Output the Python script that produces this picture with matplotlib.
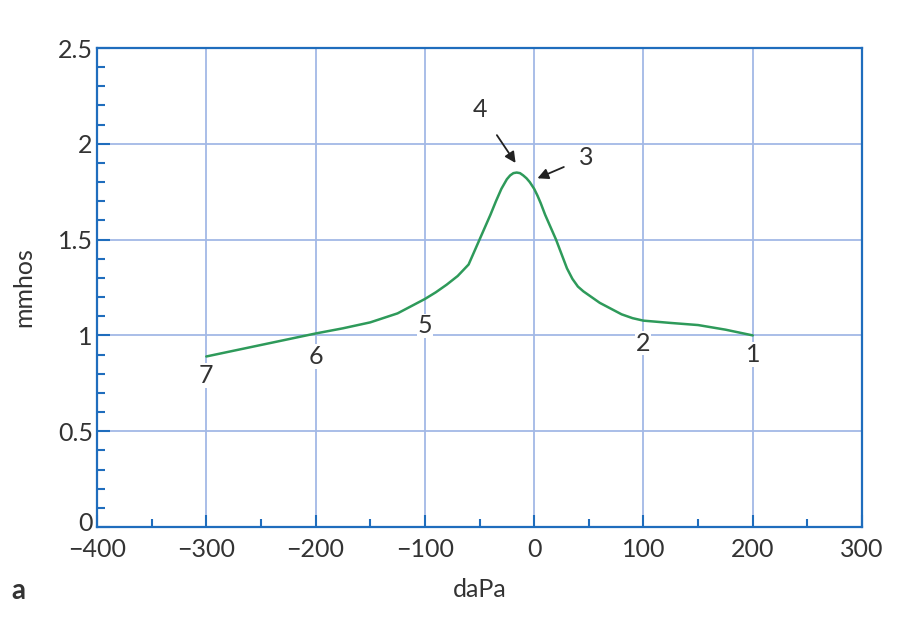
import matplotlib.pyplot as plt
import matplotlib.transforms as mtransforms
from matplotlib.ticker import MultipleLocator

# Tympanogramm-Kurve
pressure = [-300, -250, -200, -175, -150, -125, -100, -90, -80, -70, -60, -50, -45, -40, -35,
            -30, -25, -22, -19, -16, -13, -10, -7, -4, 0, 3, 6, 10, 15, 20, 25, 30, 35, 40,
            45, 50, 60, 70, 80, 90, 100, 125, 150, 175, 200]
admittance = [0.89, 0.95, 1.01, 1.037, 1.068, 1.115, 1.19, 1.225, 1.265, 1.31, 1.37, 1.50, 1.565,
              1.63, 1.70, 1.765, 1.815, 1.835, 1.847, 1.85, 1.847, 1.835, 1.82, 1.80, 1.765,
              1.73, 1.69, 1.63, 1.565, 1.50, 1.425, 1.35, 1.295, 1.255, 1.23, 1.21, 1.17, 1.14,
              1.11, 1.09, 1.077, 1.065, 1.054, 1.03, 1.0]

# Nummerierte Punkte
point_labels = ["7", "6", "5", "2", "1"]
point_x = [-300, -200, -100, 100, 200]
point_y = [0.79, 0.89, 1.05, 0.96, 0.90]

# Pfeile (Text, Textposition, Spitze)
arrow_labels = ["4", "3"]
arrow_text = [(-50, 2.18), (48, 1.93)]
arrow_tip = [(-17, 1.90), (3, 1.82)]

text_color = "#333333"
axis_color = "#1f6dbd"
grid_color = "#a3b9e6"

plt.rcParams["font.family"] = ["Lato", "DejaVu Sans"]

fig = plt.figure(figsize=(9.16, 6.36), dpi=100)
ax = fig.add_axes([0.1059, 0.1714, 0.8352, 0.7531])

ax.plot(pressure, admittance, color="#2e9a5a", lw=1.8, zorder=3,
        solid_joinstyle="round", solid_capstyle="round")

for lab, x, y in zip(point_labels, point_x, point_y):
    ax.text(x, y, lab, fontsize=18, color=text_color, ha="center", va="center",
            zorder=4, bbox=dict(facecolor="white", edgecolor="none", pad=0.5))

for lab, (tx, ty), (hx, hy) in zip(arrow_labels, arrow_text, arrow_tip):
    ax.annotate(lab, xy=(hx, hy), xytext=(tx, ty), fontsize=18, color=text_color,
                ha="center", va="center",
                arrowprops=dict(arrowstyle="-|>", color="#222222", lw=1.3,
                                shrinkA=10, shrinkB=0, mutation_scale=16))

ax.set_xlim(-400, 300)
ax.set_ylim(0, 2.5)
ax.xaxis.set_major_locator(MultipleLocator(100))
ax.xaxis.set_minor_locator(MultipleLocator(50))
ax.yaxis.set_major_locator(MultipleLocator(0.5))
ax.yaxis.set_minor_locator(MultipleLocator(0.1))
ax.set_yticks([0, 0.5, 1, 1.5, 2, 2.5])
ax.set_yticklabels(["0", "0.5", "1", "1.5", "2", "2.5"])

ax.grid(True, which="major", color=grid_color, lw=1.3, zorder=0)
for s in ax.spines.values():
    s.set_color(axis_color)
    s.set_linewidth(1.6)
ax.tick_params(which="major", direction="in", length=9, width=1.5, color=axis_color,
               labelsize=18, labelcolor=text_color, pad=3, top=False, right=False)
ax.tick_params(which="minor", direction="in", length=6, width=1.5, color=axis_color,
               top=False, right=False)
ax.tick_params(axis="x", pad=8)

# "0" an der y-Achse etwas anheben, damit es nicht auf "-400" sitzt
lbl0 = ax.get_yticklabels()[0]
lbl0.set_transform(lbl0.get_transform() +
                   mtransforms.ScaledTranslation(0, 4 / 72, fig.dpi_scale_trans))

ax.set_xlabel("daPa", fontsize=18, color=text_color, labelpad=12)
ax.set_ylabel("mmhos", fontsize=18, color=text_color, labelpad=16)
fig.text(0.012, 0.058, "a", fontsize=20, fontweight="bold", color=text_color)

fig.savefig("out.png", dpi=100)
